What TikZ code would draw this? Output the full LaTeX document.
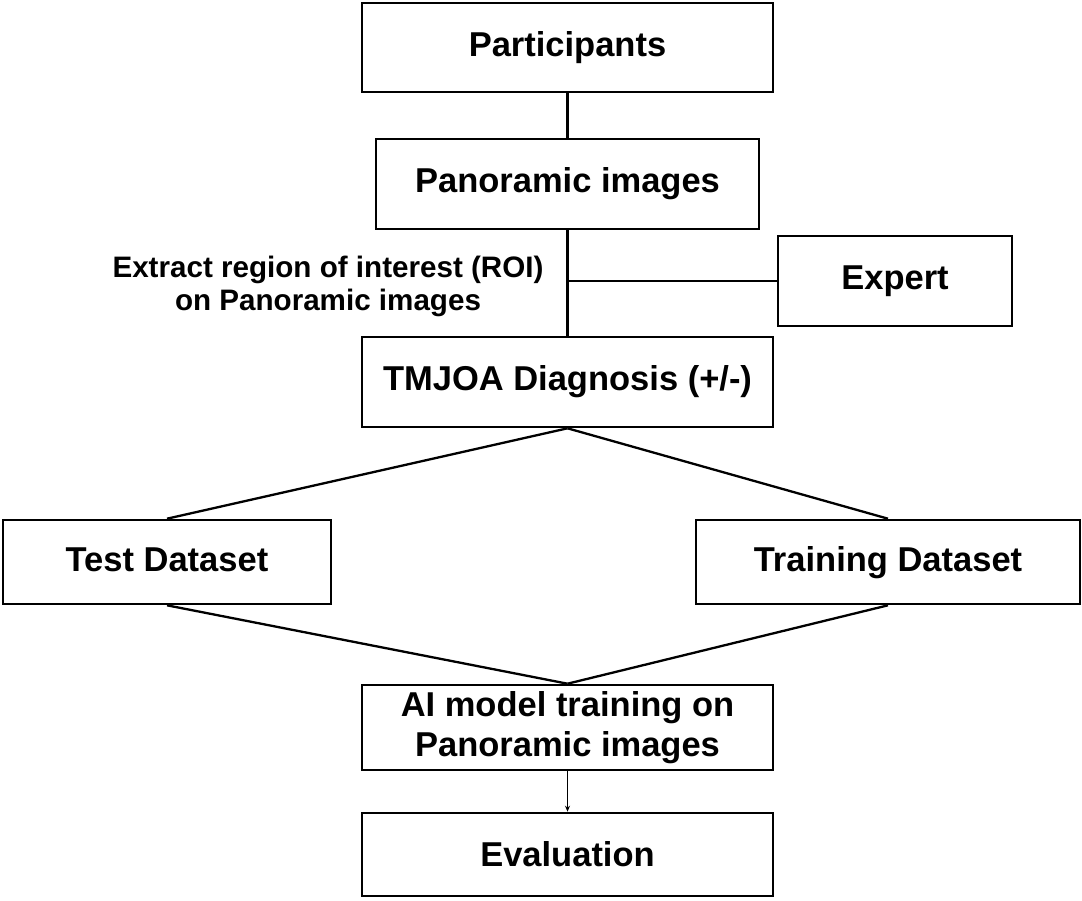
\documentclass[tikz,border=0pt]{standalone}
\usepackage{fontspec}
\setmainfont{Liberation Sans}
\usetikzlibrary{arrows.meta}

\begin{document}
\begin{tikzpicture}[x=1pt, y=-1pt,
  stepbox/.style={rectangle, draw=black, line width=2.6pt, inner sep=0pt,
    align=center, font=\fontsize{34.5}{40}\selectfont\bfseries},
  link/.style={line width=2.3pt}]
\useasboundingbox (0,0) rectangle (1082,900);

  % main column
  \node[stepbox, minimum width=411pt, minimum height=89pt] (part) at (567.5,47.5) {Participants};
  \node[stepbox, minimum width=383pt, minimum height=90pt] (pano) at (567.5,184) {Panoramic images};
  \node[stepbox, minimum width=411pt, minimum height=90pt] (diag) at (567.5,382) {TMJOA Diagnosis (+/-)};

  % expert on the side
  \node[stepbox, minimum width=234pt, minimum height=90pt] (expert) at (895,281) {Expert};
  \node[align=center, font=\fontsize{29.6}{33}\selectfont\bfseries] (roi) at (328,286)
        {Extract region of interest (ROI)\\on Panoramic images};

  % datasets
  \node[stepbox, text height=25pt, text depth=7pt, minimum width=328pt, minimum height=84pt] (test) at (167,562) {Test Dataset};
  \node[stepbox, text height=25pt, text depth=7pt, minimum width=384pt, minimum height=84pt] (train) at (888,562) {Training Dataset};

  % model and evaluation
  \node[stepbox, minimum width=411pt, minimum height=85pt] (ai) at (567.5,727.5) {AI model training on\\Panoramic images};
  \node[stepbox, minimum width=411pt, minimum height=83pt] (eval) at (567.5,854.5) {Evaluation};

  % connectors
  \draw[link] (part) -- (pano);
  \draw[link] (pano) -- (diag);
  \draw[link] (expert.west) -- (expert.west -| pano.south);
  \draw[link] (diag.south) -- (test.north);
  \draw[link] (diag.south) -- (train.north);
  \draw[link] (test.south) -- (ai.north);
  \draw[link] (train.south) -- (ai.north);
  \draw[line width=1.3pt, -{Stealth[length=6pt, width=5pt]}] (ai) -- (eval);
\end{tikzpicture}
\end{document}
